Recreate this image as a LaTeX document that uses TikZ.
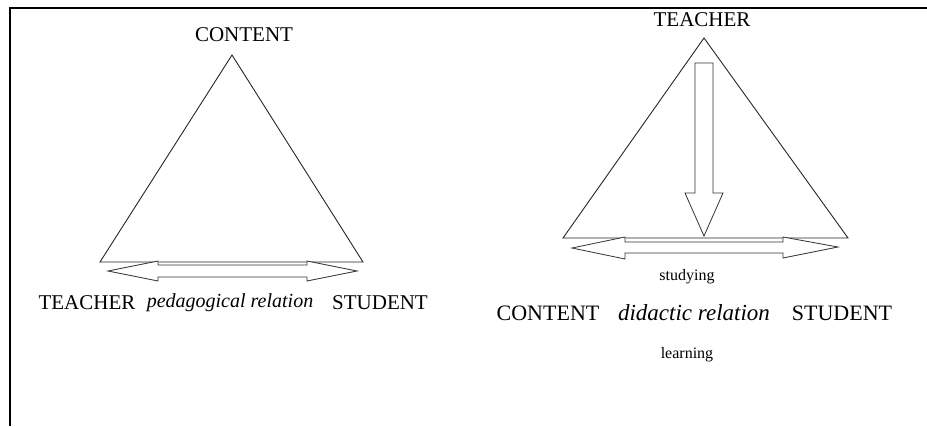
\documentclass[tikz,border=0pt]{standalone}
\usepackage{fontspec}
\setmainfont{Liberation Serif}
\begin{document}
\begin{tikzpicture}[x=1pt,y=-1pt,
  edge/.style={draw=black!85,line width=0.9pt,line join=miter},
  label/.style={inner sep=0pt,font=\fontsize{21}{24}\selectfont},
  biglabel/.style={inner sep=0pt,font=\fontsize{22}{25}\selectfont},
  relation/.style={inner sep=0pt,font=\fontsize{20}{23}\selectfont\itshape},
  bigrelation/.style={inner sep=0pt,font=\fontsize{23}{26}\selectfont\itshape},
  small/.style={inner sep=0pt,font=\fontsize{16}{18}\selectfont},
  hollow/.style={draw=black!80,line width=0.8pt,fill=white}]
\useasboundingbox (0,0) rectangle (927,426);
% frame
\draw[line width=2.2pt] (10,426) -- (10,8) -- (927,8);

% ---- pedagogical triangle ----
\coordinate (lA) at (232,55);
\coordinate (lB) at (100,262);
\coordinate (lC) at (363,262);
\draw[edge] (lA) -- (lB) -- (lC) -- cycle;
\node[label] (lcontent) at (244,35) {CONTENT};
\node[label] (lteacher) at (87,303) {TEACHER};
\node[relation] (lrel) at (230,303) {pedagogical relation};
\node[label] (lstudent) at (380,303) {STUDENT};
% double arrow under the base
\draw[hollow] (108,271) -- (158,261) -- (158,265) -- (307,265) -- (307,261)
  -- (357,271) -- (307,281) -- (307,277) -- (158,277) -- (158,281) -- cycle;

% ---- didactic triangle ----
\coordinate (rA) at (704,38);
\coordinate (rB) at (563,238);
\coordinate (rC) at (848,238);
\draw[edge] (rA) -- (rB) -- (rC) -- cycle;
\node[label] (rteacher) at (702,20) {TEACHER};
\node[small] (rstudy) at (687,277) {studying};
\node[biglabel] (rcontent) at (548,313) {CONTENT};
\node[bigrelation] (rrel) at (694,313) {didactic relation};
\node[biglabel] (rstudent) at (842,313) {STUDENT};
\node[small] (rlearn) at (687,355) {learning};
% vertical arrow from the apex to the base
\draw[hollow] (695,63) -- (713,63) -- (713,193) -- (723,193) -- (704,236)
  -- (685,193) -- (695,193) -- cycle;
% double arrow under the base
\draw[hollow] (572,248) -- (625,237) -- (625,242) -- (783,242) -- (783,237)
  -- (838,247) -- (783,258) -- (783,253) -- (625,253) -- (625,259) -- cycle;
\end{tikzpicture}
\end{document}
